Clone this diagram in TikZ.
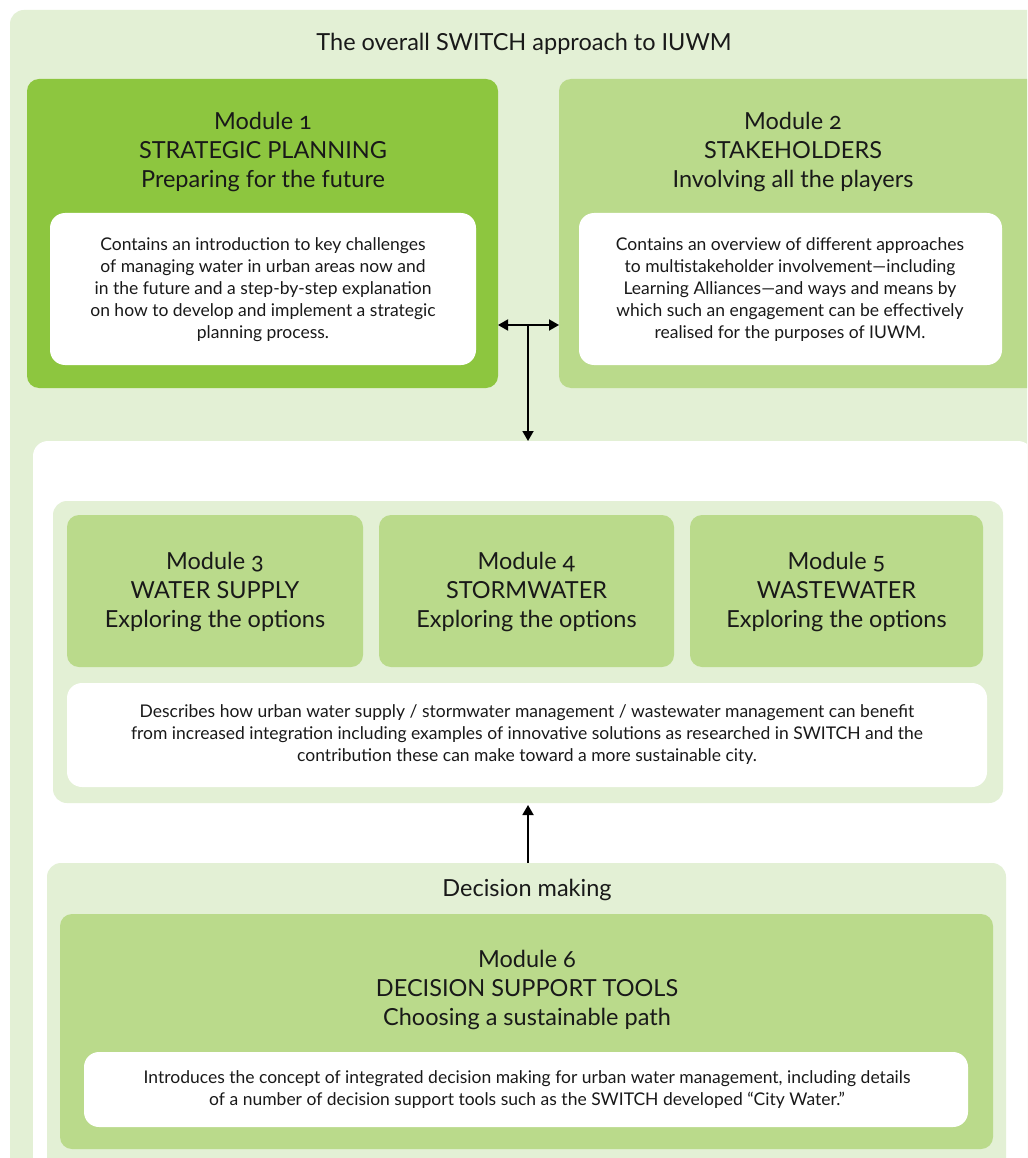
\documentclass[tikz,border=0pt]{standalone}
\usepackage{fontspec}
\setmainfont{Lato}[Numbers=OldStyle]
\usetikzlibrary{arrows.meta}
\definecolor{bgl}{RGB}{227,240,213}
\definecolor{dkg}{RGB}{141,198,63}
\definecolor{ltg}{RGB}{186,218,139}
\definecolor{txt}{RGB}{25,25,25}
\tikzset{
  panel/.style={draw=none, rounded corners=14pt, anchor=north west, inner sep=0pt, outer sep=0pt},
  head/.style={align=center, font=\fontsize{23.5}{29}\selectfont, text=txt, inner sep=0pt},
  desc/.style={align=center, font=\fontsize{17.5}{22}\selectfont, text=txt, inner sep=0pt},
  tip/.style={Triangle[length=10pt,width=11pt]},
  conn/.style={line width=1.8pt, -{Triangle[length=10pt,width=11pt]}},
}
\begin{document}
\begin{tikzpicture}[x=1pt,y=-1pt]
\path[use as bounding box, clip] (0,0) rectangle (1027,1158);
\fill[white] (0,0) rectangle (1027,1158);
% outer
\node[panel, fill=bgl, minimum width=1040pt, minimum height=1170pt] (outer) at (10,10) {};
\node[head] (title) at (524,44) {The overall SWITCH approach to IUWM};
% module 1
\node[panel, fill=dkg, rounded corners=12pt, minimum width=471pt, minimum height=309pt] (m1) at (27,79) {};
\node[head] (m1t) at (263,152) {Module 1\\STRATEGIC PLANNING\\Preparing for the future};
\node[panel, fill=white, rounded corners=15pt, minimum width=426pt, minimum height=152pt] (m1w) at (50,213) {};
\node[desc] (m1d) at (263,290) {Contains an introduction to key challenges\\of managing water in urban areas now and\\in the future and a step-by-step explanation\\on how to develop and implement a strategic\\planning process.};
% module 2
\node[panel, fill=ltg, rounded corners=12pt, minimum width=480pt, minimum height=309pt] (m2) at (559,79) {};
\node[head] (m2t) at (793,152) {Module 2\\STAKEHOLDERS\\Involving all the players};
\node[panel, fill=white, rounded corners=15pt, minimum width=423pt, minimum height=152pt] (m2w) at (579,213) {};
\node[desc] (m2d) at (790,290) {Contains an overview of different approaches\\to multistakeholder involvement---including\\Learning Alliances---and ways and means by\\which such an engagement can be effectively\\realised for the purposes of IUWM.};
% big white
\node[panel, fill=white, rounded corners=15pt, minimum width=1000pt, minimum height=760pt] (big) at (33,441) {};
% group 3-5
\node[panel, fill=bgl, rounded corners=14pt, minimum width=950pt, minimum height=302pt] (grp) at (53,501) {};
\node[panel, fill=ltg, rounded corners=12pt, minimum width=296pt, minimum height=152pt] (m3) at (67,515) {};
\node[panel, fill=ltg, rounded corners=12pt, minimum width=295pt, minimum height=152pt] (m4) at (379,515) {};
\node[panel, fill=ltg, rounded corners=12pt, minimum width=293pt, minimum height=152pt] (m5) at (690,515) {};
\node[head] (m3t) at (m3.center) [yshift=-1pt] {Module 3\\WATER SUPPLY\\Exploring the options};
\node[head] (m4t) at (m4.center) [yshift=-1pt] {Module 4\\STORMWATER\\Exploring the options};
\node[head] (m5t) at (m5.center) [yshift=-1pt] {Module 5\\WASTEWATER\\Exploring the options};
\node[panel, fill=white, rounded corners=15pt, minimum width=920pt, minimum height=104pt] (gw) at (67,683) {};
\node[desc] (gd) at (527,735) {Describes how urban water supply / stormwater management / wastewater management can benefit\\from increased integration including examples of innovative solutions as researched in SWITCH and the\\contribution these can make toward a more sustainable city.};
% decision making
\node[panel, fill=bgl, rounded corners=14pt, minimum width=959pt, minimum height=320pt] (dm) at (47,863) {};
\node[head] (dmt) at (527,890) {Decision making};
\node[panel, fill=ltg, rounded corners=12pt, minimum width=933pt, minimum height=235pt] (m6) at (60,914) {};
\node[head] (m6t) at (527,990) {Module 6\\DECISION SUPPORT TOOLS\\Choosing a sustainable path};
\node[panel, fill=white, rounded corners=15pt, minimum width=884pt, minimum height=75pt] (m6w) at (84,1052) {};
\node[desc] (m6d) at (527,1090) {Introduces the concept of integrated decision making for urban water management, including details\\of a number of decision support tools such as the SWITCH developed ``City Water.''};
% connectors
\coordinate (j) at (528,325);
\draw[conn, {Triangle[length=10pt,width=11pt]}-{Triangle[length=10pt,width=11pt]}] (m1.east |- j) -- (m2.west |- j);
\draw[conn] (j) -- (big.north -| j);
\draw[conn] (dm.north -| j) -- ([yshift=-2pt]grp.south -| j);
\end{tikzpicture}
\end{document}
